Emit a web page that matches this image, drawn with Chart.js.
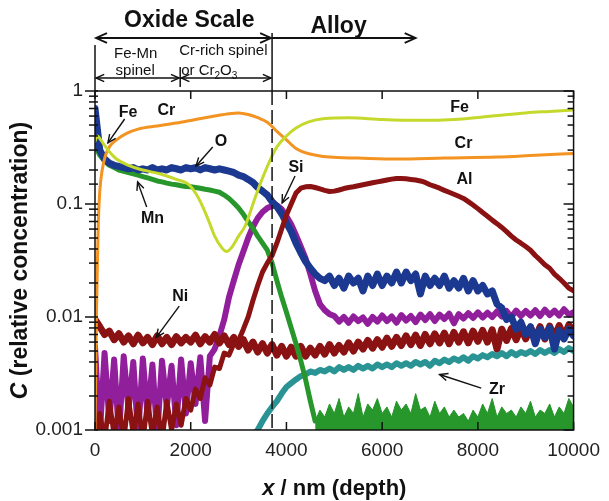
<!DOCTYPE html>
<html lang="en">
<head>
<meta charset="UTF-8">
<title>Oxide scale depth profile</title>
<script src="https://cdn.jsdelivr.net/npm/chart.js@4.4.1/dist/chart.umd.min.js"></script>
<style>
  html, body { margin: 0; padding: 0; background: #fff; }
  canvas { display: block; }
</style>
</head>
<body>
<canvas id="profile" width="609" height="501"></canvas>
<script>
// depth grid for the noisy traces is 100 nm per point
const step = 100;

const xTicks = [0, 2000, 4000, 6000, 8000, 10000];
const yTickLabels = ['0.001', '0.01', '0.1', '1'];

// Fe and Cr are smooth, read at uneven depths
const feX = [0,50,100,200,300,450,700,1000,1350,1700,1950,2100,2250,2370,2500,2650,2750,2850,3000,3130,3200,3350,3500,3650,3800,4000,4200,4450,4800,5300,6000,6800,7500,8300,9000,9500,10000];
const feC = [0.36,0.40,0.38,0.33,0.29,0.25,0.22,0.20,0.185,0.165,0.15,0.125,0.095,0.072,0.052,0.041,0.038,0.041,0.052,0.063,0.075,0.115,0.17,0.24,0.32,0.40,0.47,0.53,0.57,0.58,0.56,0.55,0.56,0.60,0.64,0.66,0.68];

const crX = [0,15,30,50,70,100,150,220,300,450,650,900,1300,1700,2100,2500,2800,3000,3200,3400,3600,3800,4000,4200,4450,4900,5500,6300,7300,8400,9200,10000];
const crC = [0.001,0.003,0.01,0.03,0.07,0.13,0.2,0.27,0.32,0.37,0.42,0.46,0.49,0.52,0.56,0.6,0.63,0.64,0.62,0.58,0.53,0.44,0.37,0.31,0.28,0.26,0.255,0.25,0.255,0.26,0.27,0.28];

// 0 .. 10000 nm
const oC = [0.70,0.30,0.25,0.23,0.22,0.215,0.21,0.205,0.21,0.20,
  0.205,0.20,0.21,0.20,0.205,0.20,0.21,0.205,0.20,0.21,
  0.205,0.21,0.20,0.21,0.205,0.20,0.205,0.20,0.195,0.19,
  0.18,0.175,0.165,0.155,0.14,0.13,0.12,0.105,0.095,0.082,
  0.068,0.057,0.045,0.037,0.031,0.027,0.024,0.022,0.021,0.023,
  0.019,0.022,0.018,0.023,0.020,0.022,0.017,0.023,0.019,0.024,
  0.019,0.023,0.020,0.025,0.020,0.025,0.021,0.024,0.016,0.023,
  0.019,0.022,0.019,0.023,0.018,0.021,0.018,0.022,0.017,0.021,
  0.017,0.019,0.016,0.017,0.013,0.012,0.0095,0.010,0.0078,0.009,
  0.0070,0.0082,0.0058,0.0078,0.0066,0.0080,0.0052,0.0076,0.0064,0.0078,
  0.0068];

// 0 .. 4600 nm, then the noise floor 4600 .. 10000 nm
const mnC = [0.33,0.27,0.24,0.22,0.21,0.20,0.195,0.19,0.185,0.18,
  0.175,0.17,0.165,0.16,0.157,0.153,0.15,0.148,0.145,0.143,
  0.142,0.14,0.138,0.135,0.133,0.13,0.127,0.12,0.112,0.102,
  0.092,0.081,0.07,0.061,0.052,0.045,0.039,0.03,0.021,0.015,
  0.011,0.008,0.0058,0.0041,0.0028,0.0018,0.0012];
const mnFloorC = [0.0012,0.0015,0.0013,0.0017,0.0014,0.0019,0.0013,0.0016,0.0014,0.0021,
  0.0013,0.0017,0.0015,0.0019,0.0014,0.0016,0.0013,0.0018,0.0015,0.0017,
  0.0014,0.0021,0.0015,0.0016,0.0013,0.0018,0.0014,0.0016,0.0013,0.0015,
  0.0013,0.0014,0.0012,0.0015,0.0013,0.0017,0.0014,0.0019,0.0013,0.0016,
  0.0014,0.0015,0.0013,0.0016,0.0014,0.0018,0.0013,0.0015,0.0014,0.0017,
  0.0013,0.0016,0.0014,0.0019,0.0016];

// 0 .. 10000 nm
const niC = [0.0095,0.0082,0.0070,0.0075,0.0063,0.0071,0.0060,0.0068,0.0058,0.0069,
  0.0059,0.0066,0.0057,0.0068,0.0058,0.0066,0.0057,0.0067,0.0059,0.0066,
  0.0060,0.0069,0.0058,0.0067,0.0060,0.0070,0.0059,0.0068,0.0057,0.0066,
  0.0055,0.0063,0.0051,0.0060,0.0049,0.0058,0.0048,0.0057,0.0046,0.0055,
  0.0045,0.0054,0.0045,0.0055,0.0045,0.0053,0.0046,0.0055,0.0047,0.0057,
  0.0048,0.0056,0.0049,0.0059,0.0050,0.0060,0.0052,0.0062,0.0053,0.0063,
  0.0054,0.0065,0.0055,0.0066,0.0056,0.0068,0.0057,0.0069,0.0056,0.0070,
  0.0058,0.0071,0.0059,0.0072,0.0058,0.0073,0.0060,0.0074,0.0059,0.0075,
  0.0061,0.0076,0.0060,0.0077,0.0052,0.0078,0.0062,0.0079,0.0063,0.0080,
  0.0064,0.0081,0.0065,0.0082,0.0064,0.0083,0.0066,0.0084,0.0067,0.0085,
  0.0075];

const siC = [0.0055,0.0009,0.0048,0.0012,0.0042,0.0009,0.0045,0.0015,0.0040,0.0009,
  0.0043,0.0013,0.0038,0.0009,0.0041,0.0016,0.0037,0.0011,0.0042,0.0014,
  0.0039,0.0017,0.0044,0.0012,0.0045,0.0052,0.0068,0.0095,0.015,0.021,
  0.029,0.038,0.050,0.063,0.075,0.085,0.092,0.096,0.097,0.090,
  0.078,0.066,0.053,0.042,0.033,0.024,0.017,0.013,0.0115,0.0106,
  0.0102,0.0091,0.0100,0.0089,0.0101,0.0092,0.0099,0.0087,0.0100,0.0091,
  0.0103,0.0092,0.0101,0.0089,0.0104,0.0093,0.0102,0.0090,0.0105,0.0094,
  0.0106,0.0092,0.0105,0.0096,0.0107,0.0088,0.0106,0.0097,0.0108,0.0098,
  0.0110,0.0099,0.0109,0.0100,0.0112,0.0101,0.0113,0.0100,0.0114,0.0102,
  0.0113,0.0103,0.0115,0.0102,0.0116,0.0104,0.0114,0.0103,0.0117,0.0105,
  0.0110];

const alC = [0.0008,0.0014,0.0008,0.0018,0.0009,0.0016,0.0008,0.0019,0.0009,0.0017,
  0.0008,0.0018,0.0009,0.0016,0.0008,0.0018,0.0010,0.0017,0.0011,0.0019,
  0.0015,0.0023,0.0019,0.0029,0.0025,0.0036,0.0035,0.0048,0.0046,0.0058,
  0.0062,0.0078,0.010,0.014,0.019,0.025,0.030,0.035,0.045,0.060,
  0.080,0.100,0.125,0.138,0.142,0.143,0.140,0.136,0.132,0.129,
  0.130,0.133,0.137,0.140,0.142,0.145,0.148,0.151,0.154,0.157,
  0.160,0.163,0.166,0.168,0.168,0.167,0.165,0.163,0.160,0.155,
  0.148,0.143,0.138,0.132,0.127,0.122,0.117,0.112,0.105,0.098,
  0.091,0.084,0.078,0.072,0.067,0.062,0.057,0.052,0.048,0.045,
  0.042,0.039,0.035,0.032,0.029,0.027,0.024,0.022,0.020,0.018,
  0.017];

// 3300 .. 10000 nm
const zrC = [0.0009,0.0010,0.0012,0.0014,0.0016,0.0018,0.0021,0.0024,0.0026,0.0028,
  0.0030,0.0031,0.0033,0.0032,0.0034,0.0033,0.0035,0.0033,0.0036,0.0034,
  0.0036,0.0034,0.0037,0.0035,0.0037,0.0035,0.0038,0.0036,0.0038,0.0036,
  0.0039,0.0037,0.0039,0.0037,0.0040,0.0038,0.0040,0.0037,0.0041,0.0039,
  0.0042,0.0040,0.0043,0.0041,0.0044,0.0041,0.0045,0.0043,0.0046,0.0044,
  0.0047,0.0045,0.0048,0.0045,0.0049,0.0046,0.0049,0.0047,0.0050,0.0047,
  0.0051,0.0048,0.0051,0.0048,0.0052,0.0049,0.0053,0.0050];

// labels on the curves: text, depth, C, and optional arrow (from -> to)
const curveLabels = [
  { t: 'Fe', x: 690, y: 0.65, arrow: [620, 0.565, 270, 0.347] },
  { t: 'Cr', x: 1490, y: 0.665 },
  { t: 'O', x: 2630, y: 0.36, arrow: [2460, 0.32, 2110, 0.217] },
  { t: 'Mn', x: 1200, y: 0.075, arrow: [1080, 0.094, 890, 0.157] },
  { t: 'Si', x: 4200, y: 0.212, arrow: [4180, 0.177, 3910, 0.102] },
  { t: 'Fe', x: 7620, y: 0.72 },
  { t: 'Cr', x: 7700, y: 0.34 },
  { t: 'Al', x: 7720, y: 0.163 },
  { t: 'Ni', x: 1780, y: 0.0153, arrow: [1760, 0.0125, 1280, 0.0066] },
  { t: 'Zr', x: 8400, y: 0.0023, arrow: [8070, 0.00235, 7200, 0.0031] }
];

const boundary = 3700;   // oxide / alloy interface
const spinelEdge = 1780; // Fe-Mn spinel / Cr-rich layer
const alloyEnd = 6700;

const grid = (x0, vals) => vals.map((v, i) => ({ x: x0 + i * step, y: v }));
const pairs = (xs, vals) => xs.map((x, i) => ({ x: x, y: vals[i] }));

function line(ctx, x1, y1, x2, y2) {
  ctx.beginPath(); ctx.moveTo(x1, y1); ctx.lineTo(x2, y2); ctx.stroke();
}
function head(ctx, x1, y1, x2, y2, size) {
  const a = Math.atan2(y2 - y1, x2 - x1);
  ctx.beginPath();
  ctx.moveTo(x2 - size * Math.cos(a - 0.42), y2 - size * Math.sin(a - 0.42));
  ctx.lineTo(x2, y2);
  ctx.lineTo(x2 - size * Math.cos(a + 0.42), y2 - size * Math.sin(a + 0.42));
  ctx.stroke();
}
function arrow(ctx, x1, y1, x2, y2, size, both) {
  line(ctx, x1, y1, x2, y2);
  head(ctx, x1, y1, x2, y2, size);
  if (both) head(ctx, x2, y2, x1, y1, size);
}
function isDecade(v) {
  const l = Math.log10(v);
  return Math.abs(l - Math.round(l)) < 1e-6;
}

const overlay = {
  id: 'overlay',
  afterDatasetsDraw(chart) {
    const { ctx, chartArea: a, scales: { x, y } } = chart;
    const xs = v => x.getPixelForValue(v);
    ctx.save();
    ctx.strokeStyle = '#111';
    ctx.fillStyle = '#111';
    ctx.lineWidth = 1.5;
    ctx.strokeRect(a.left, a.top, a.right - a.left, a.bottom - a.top);

    y.ticks.forEach(t => {
      const py = y.getPixelForValue(t.value);
      const len = isDecade(t.value) ? 10 : 6;
      line(ctx, a.left - len, py, a.left + 3, py);
      line(ctx, a.right - len, py, a.right, py);
    });
    x.ticks.forEach(t => {
      const px = xs(t.value);
      line(ctx, px, a.top, px, a.top + 8);
      line(ctx, px, a.bottom, px, a.bottom - 8);
    });

    // interface line
    const bx = xs(boundary);
    line(ctx, bx, a.top - 58, bx, a.top);
    ctx.setLineDash([14, 5]);
    line(ctx, bx, a.top, bx, a.bottom);
    ctx.setLineDash([]);

    // layer arrows above the plot
    line(ctx, xs(0), a.top - 46, xs(0), a.top);
    line(ctx, xs(spinelEdge), a.top - 24, xs(spinelEdge), a.top - 4);
    ctx.lineWidth = 1.8;
    arrow(ctx, xs(0) + 1, a.top - 53, bx - 1, a.top - 53, 12, true);
    arrow(ctx, bx, a.top - 53, xs(alloyEnd), a.top - 53, 12, false);
    ctx.lineWidth = 1.4;
    arrow(ctx, xs(0) + 1, a.top - 13, xs(spinelEdge) - 1, a.top - 13, 9, true);
    arrow(ctx, xs(spinelEdge) + 1, a.top - 13, bx - 1, a.top - 13, 9, true);

    ctx.textBaseline = 'alphabetic';
    ctx.textAlign = 'center';
    ctx.font = 'bold 23px "Liberation Sans", Arial, sans-serif';
    ctx.fillText('Oxide Scale', xs(1970), a.top - 64);
    ctx.fillText('Alloy', xs(5090), a.top - 58);

    ctx.font = '15px "Liberation Sans", Arial, sans-serif';
    ctx.fillText('Fe-Mn', xs(850), a.top - 33);
    ctx.fillText('spinel', xs(840), a.top - 16);
    ctx.textAlign = 'left';
    ctx.fillText('Cr-rich spinel', xs(spinelEdge) - 1, a.top - 36);
    let cx = xs(spinelEdge) + 1;
    const by = a.top - 16;
    const parts = [['or Cr', 0, 15], ['2', 4, 10], ['O', 0, 15], ['3', 4, 10]];
    parts.forEach(([s, dy, size]) => {
      ctx.font = size + 'px "Liberation Sans", Arial, sans-serif';
      ctx.fillText(s, cx, by + dy);
      cx += ctx.measureText(s).width;
    });

    // curve labels
    ctx.textAlign = 'center';
    ctx.textBaseline = 'middle';
    ctx.font = 'bold 16px "Liberation Sans", Arial, sans-serif';
    ctx.lineWidth = 1.4;
    curveLabels.forEach(l => {
      ctx.fillText(l.t, xs(l.x), y.getPixelForValue(l.y));
      if (l.arrow) {
        const [x1, y1, x2, y2] = l.arrow;
        arrow(ctx, xs(x1), y.getPixelForValue(y1), xs(x2), y.getPixelForValue(y2), 9, false);
      }
    });
    ctx.restore();
  },
  afterDraw(chart) {
    const { ctx, chartArea: a } = chart;
    ctx.save();
    ctx.fillStyle = '#111';
    ctx.textBaseline = 'alphabetic';
    ctx.textAlign = 'left';
    const drawMixed = (bits, cx, cy) => {
      let w = 0;
      bits.forEach(b => { ctx.font = b[1]; w += ctx.measureText(b[0]).width; });
      let px = cx - w / 2;
      bits.forEach(b => { ctx.font = b[1]; ctx.fillText(b[0], px, cy); px += ctx.measureText(b[0]).width; });
    };
    const it = 'italic bold 22px "Liberation Sans", Arial, sans-serif';
    const bd = 'bold 22px "Liberation Sans", Arial, sans-serif';
    drawMixed([['x', it], [' / nm (depth)', bd]], (a.left + a.right) / 2, 495);
    ctx.translate(27, (a.top + a.bottom) / 2);
    ctx.rotate(-Math.PI / 2);
    ctx.font = bd;
    drawMixed([['C', 'italic bold 23px "Liberation Sans", Arial, sans-serif'], [' (relative concentration)', 'bold 23px "Liberation Sans", Arial, sans-serif']], 0, 0);
    ctx.restore();
  }
};

const common = { pointRadius: 0, tension: 0, clip: 0, fill: false, borderJoinStyle: 'round', borderCapStyle: 'round' };

new Chart(document.getElementById('profile'), {
  type: 'line',
  data: {
    datasets: [
      { label: 'Fe', data: pairs(feX, feC), borderColor: '#c5d92d', borderWidth: 3, ...common, cubicInterpolationMode: 'monotone' },
      { label: 'Cr', data: pairs(crX, crC), borderColor: '#f39322', borderWidth: 3, ...common, cubicInterpolationMode: 'monotone' },
      { label: 'Al', data: grid(0, alC), borderColor: '#8b1212', borderWidth: 5, ...common },
      { label: 'O', data: grid(0, oC), borderColor: '#1b3990', borderWidth: 7, ...common },
      { label: 'Mn', data: grid(0, mnC), borderColor: '#27962b', borderWidth: 5, ...common },
      { label: 'Zr', data: grid(3300, zrC), borderColor: '#2a9494', borderWidth: 6, ...common },
      { label: 'Ni', data: grid(0, niC), borderColor: '#8b1212', borderWidth: 7, ...common },
      { label: 'Si', data: grid(0, siC), borderColor: '#911f9c', borderWidth: 6, ...common },
      { label: 'Mn', data: grid(4600, mnFloorC), borderColor: '#27962b', backgroundColor: '#27962b', borderWidth: 1, ...common, fill: 'start' }
    ]
  },
  options: {
    responsive: false,
    animation: false,
    layout: { padding: { top: 91, right: 31, left: 0, bottom: 0 } },
    plugins: { legend: { display: false }, tooltip: { enabled: false } },
    scales: {
      x: {
        type: 'linear', min: 0, max: 10000,
        afterBuildTicks: s => { s.ticks = xTicks.map(v => ({ value: v })); },
        ticks: { callback: v => String(v), color: '#222', maxRotation: 0, padding: 9,
                 font: { family: '"Liberation Sans", Arial, sans-serif', size: 19 } },
        grid: { display: false, drawTicks: false },
        border: { display: false },
        afterFit: s => { s.height = 71; }
      },
      y: {
        type: 'logarithmic', min: 0.001, max: 1,
        ticks: {
          autoSkip: false, color: '#222', padding: 12,
          font: { family: '"Liberation Sans", Arial, sans-serif', size: 19 },
          callback: v => isDecade(v) ? yTickLabels[Math.round(Math.log10(v)) + 3] : ''
        },
        grid: { display: false, drawTicks: false },
        border: { display: false },
        afterFit: s => { s.width = 95; }
      }
    }
  },
  plugins: [overlay]
});
</script>
</body>
</html>
